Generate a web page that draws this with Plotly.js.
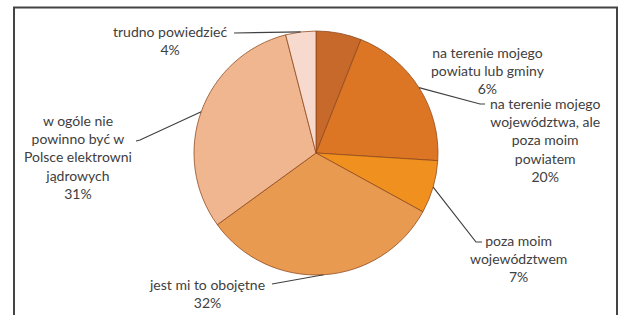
<!DOCTYPE html>
<html>
<head>
<meta charset="utf-8">
<script src="https://cdn.plot.ly/plotly-3.0.1.min.js"></script>
<style>html,body{margin:0;padding:0;background:#fff;}#chart{width:623px;height:315px;}</style>
</head>
<body>
<div id="chart"></div>
<script>
// ---- data ----
const categories = [
  "na terenie mojego powiatu lub gminy",
  "na terenie mojego województwa, ale poza moim powiatem",
  "poza moim województwem",
  "jest mi to obojętne",
  "w ogóle nie powinno być w Polsce elektrowni jądrowych",
  "trudno powiedzieć"
];
const values = [6, 20, 7, 32, 31, 4];
const labelLines = [
  ["na terenie mojego", "powiatu lub gminy"],
  ["na terenie mojego", "województwa, ale", "poza moim", "powiatem"],
  ["poza moim", "województwem"],
  ["jest mi to obojętne"],
  ["w ogóle nie", "powinno być w", "Polsce elektrowni", "jądrowych"],
  ["trudno powiedzieć"]
];

// ---- styles / layout ----
const W = 623, H = 315;
const colors = ["#c7692b", "#dc7624", "#f0911f", "#e99a51", "#efb68f", "#f7dacd"];
const PIE = {cx: 316, cy: 153, r: 122};
const labelPos = [
  {x: 488, y: 71,  path: null},
  {x: 545, y: 140, path: [[480, 104], [485, 104]]},
  {x: 518, y: 258, path: [[476, 242], [482, 242]]},
  {x: 207, y: 293, path: [[272, 284]]},
  {x: 78,  y: 157, path: [[140, 140], [136, 141]]},
  {x: 170, y: 40,  path: [[234, 33]]}
];
const px2x = p => p / W;
const py2y = p => 1 - p / H;

const trace = {
  type: "pie",
  labels: categories,
  values: values,
  sort: false,
  direction: "clockwise",
  rotation: 0,
  textinfo: "none",
  hoverinfo: "label+percent",
  marker: {colors: colors, line: {color: "rgba(140,70,25,0.75)", width: 1}},
  domain: {
    x: [px2x(PIE.cx - PIE.r), px2x(PIE.cx + PIE.r)],
    y: [py2y(PIE.cy + PIE.r), py2y(PIE.cy - PIE.r)]
  },
  showlegend: false
};

// leader lines start at the mid-angle of each slice on the pie edge
const total = values.reduce((a, b) => a + b, 0);
let cum = 0;
const shapes = [];
const annotations = [];
values.forEach((v, i) => {
  const mid = (cum + v / 2) / total * 2 * Math.PI;
  cum += v;
  const ex = PIE.cx + PIE.r * Math.sin(mid);
  const ey = PIE.cy - PIE.r * Math.cos(mid);
  const lp = labelPos[i];
  if (lp.path) {
    let d = "M " + px2x(ex) + "," + py2y(ey);
    lp.path.forEach(p => { d += " L " + px2x(p[0]) + "," + py2y(p[1]); });
    shapes.push({type: "path", xref: "paper", yref: "paper", path: d,
      line: {color: "#404040", width: 1.2}});
  }
  annotations.push({
    xref: "paper", yref: "paper", x: px2x(lp.x), y: py2y(lp.y),
    xanchor: "center", yanchor: "middle", showarrow: false, align: "center",
    text: labelLines[i].join("<br>") + "<br>" + v + "%",
    font: {family: "Lato, 'Open Sans', sans-serif", size: 14, color: "#404040"}
  });
});

// outer frame
shapes.push({type: "rect", xref: "paper", yref: "paper",
  x0: px2x(14), x1: px2x(617), y0: -0.1, y1: py2y(7.5),
  line: {color: "#444", width: 2}, fillcolor: "rgba(0,0,0,0)"});

const layout = {
  width: W, height: H,
  margin: {l: 0, r: 0, t: 0, b: 0},
  paper_bgcolor: "#ffffff",
  shapes: shapes,
  annotations: annotations
};

Plotly.newPlot("chart", [trace], layout, {displayModeBar: false, staticPlot: true});
</script>
</body>
</html>
